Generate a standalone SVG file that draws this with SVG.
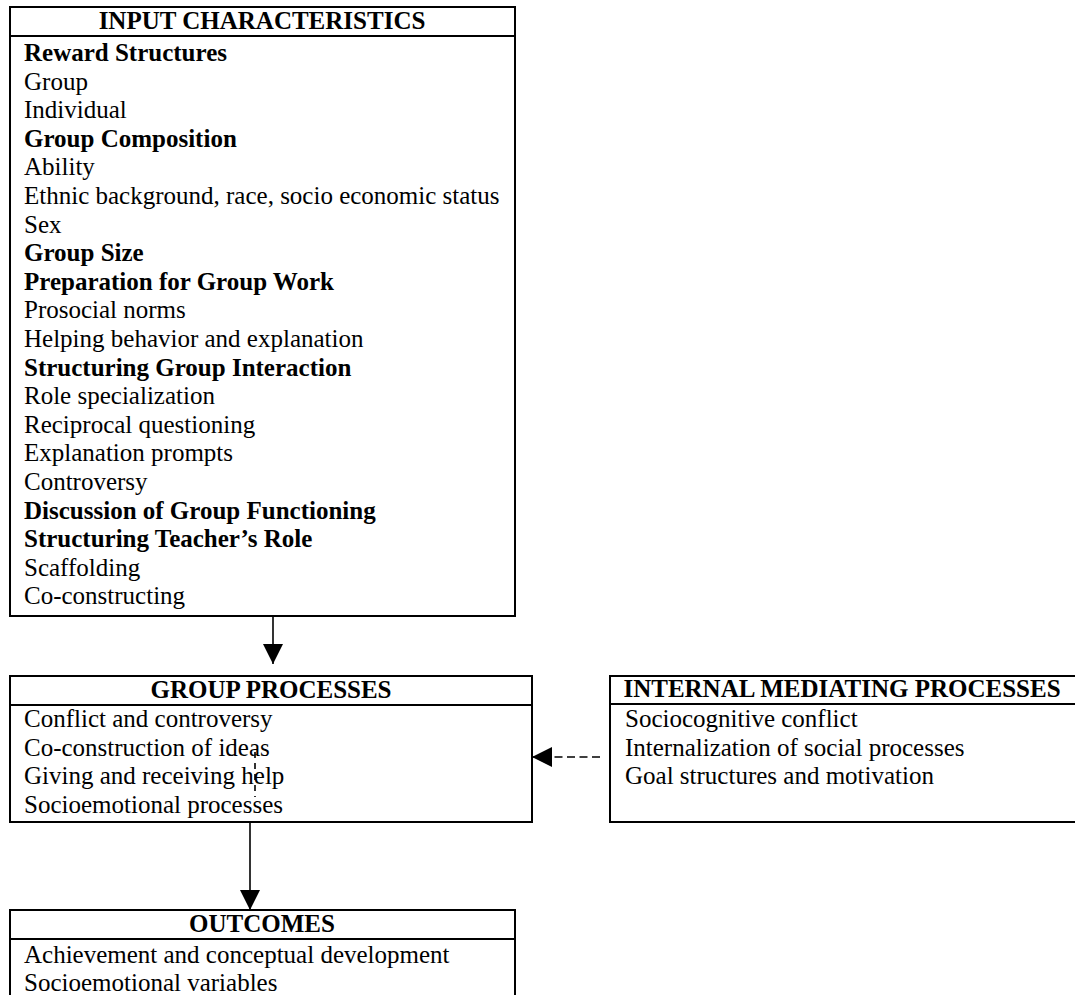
<svg xmlns="http://www.w3.org/2000/svg" width="1075" height="995" viewBox="0 0 1075 995">
  <defs>
    <style>
      .box { fill: #ffffff; stroke: #000000; stroke-width: 2; }
      .rule { stroke: #000000; stroke-width: 2; }
      .head { font-family: "Liberation Serif", "Times New Roman", serif; font-size: 25px; font-weight: bold; text-anchor: middle; fill: #000000; }
      .item { font-family: "Liberation Serif", "Times New Roman", serif; font-size: 25px; fill: #000000; }
      .bold { font-weight: bold; }
      .link { stroke: #000000; stroke-width: 1.6; fill: none; }
      .dash { stroke-dasharray: 8 4.5; }
    </style>
    <marker id="arrowhead" markerUnits="userSpaceOnUse" markerWidth="20" markerHeight="20" viewBox="0 0 20 20" refX="20" refY="10" orient="auto">
      <path d="M0,0 L20,10 L0,20 Z" fill="#000000"/>
    </marker>
  </defs>

  <rect width="1075" height="995" fill="#ffffff"/>

  <!-- Input characteristics -->
  <g id="input-characteristics">
    <rect class="box" x="10" y="7" width="505" height="609"/>
    <line class="rule" x1="10" y1="36" x2="515" y2="36"/>
    <text class="head" x="262" y="29">INPUT CHARACTERISTICS</text>
    <text class="item bold" x="24" y="61">Reward Structures</text>
    <text class="item" x="24" y="89.6">Group</text>
    <text class="item" x="24" y="118.2">Individual</text>
    <text class="item bold" x="24" y="146.8">Group Composition</text>
    <text class="item" x="24" y="175.4">Ability</text>
    <text class="item" x="24" y="204">Ethnic background, race, socio economic status</text>
    <text class="item" x="24" y="232.6">Sex</text>
    <text class="item bold" x="24" y="261.2">Group Size</text>
    <text class="item bold" x="24" y="289.8">Preparation for Group Work</text>
    <text class="item" x="24" y="318.4">Prosocial norms</text>
    <text class="item" x="24" y="347">Helping behavior and explanation</text>
    <text class="item bold" x="24" y="375.6">Structuring Group Interaction</text>
    <text class="item" x="24" y="404.2">Role specialization</text>
    <text class="item" x="24" y="432.8">Reciprocal questioning</text>
    <text class="item" x="24" y="461.4">Explanation prompts</text>
    <text class="item" x="24" y="490">Controversy</text>
    <text class="item bold" x="24" y="518.6">Discussion of Group Functioning</text>
    <text class="item bold" x="24" y="547.2">Structuring Teacher’s Role</text>
    <text class="item" x="24" y="575.8">Scaffolding</text>
    <text class="item" x="24" y="604.4">Co-constructing</text>
  </g>

  <!-- Group processes -->
  <g id="group-processes">
    <rect class="box" x="10" y="676" width="522" height="146"/>
    <line class="rule" x1="10" y1="705" x2="532" y2="705"/>
    <text class="head" x="271" y="698">GROUP PROCESSES</text>
    <text class="item" x="24" y="727">Conflict and controversy</text>
    <text class="item" x="24" y="755.5">Co-construction of ideas</text>
    <text class="item" x="24" y="784">Giving and receiving help</text>
    <text class="item" x="24" y="812.5">Socioemotional processes</text>
  </g>

  <!-- Internal mediating processes -->
  <g id="internal-mediating-processes">
    <rect class="box" x="610" y="676" width="468" height="146"/>
    <line class="rule" x1="610" y1="704" x2="1078" y2="704"/>
    <text class="head" x="842" y="697">INTERNAL MEDIATING PROCESSES</text>
    <text class="item" x="625" y="727">Sociocognitive conflict</text>
    <text class="item" x="625" y="755.5">Internalization of social processes</text>
    <text class="item" x="625" y="784">Goal structures and motivation</text>
  </g>

  <!-- Outcomes -->
  <g id="outcomes">
    <rect class="box" x="10" y="910" width="505" height="100"/>
    <line class="rule" x1="10" y1="939" x2="515" y2="939"/>
    <text class="head" x="262" y="932">OUTCOMES</text>
    <text class="item" x="24" y="963">Achievement and conceptual development</text>
    <text class="item" x="24" y="991">Socioemotional variables</text>
  </g>

  <!-- Connectors -->
  <g id="connectors">
    <line class="link" x1="273" y1="617" x2="273" y2="664" marker-end="url(#arrowhead)"/>
    <line class="link" x1="250" y1="822" x2="250" y2="910" marker-end="url(#arrowhead)"/>
    <line class="link dash" x1="600" y1="757" x2="532" y2="757" marker-end="url(#arrowhead)"/>
    <line class="link" x1="255" y1="752" x2="255" y2="797" stroke-dasharray="6 5"/>
  </g>
</svg>
